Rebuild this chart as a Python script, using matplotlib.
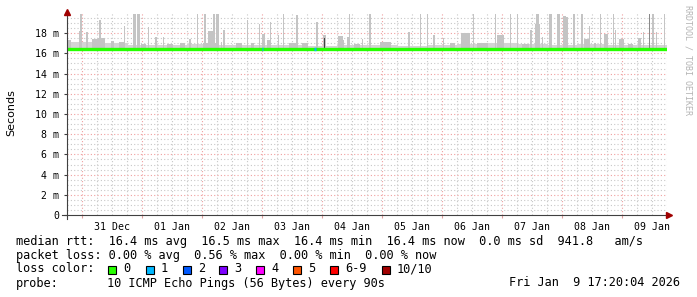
import matplotlib
matplotlib.use('Agg')
import matplotlib.pyplot as plt
import matplotlib.dates as mdates
from matplotlib.patches import Rectangle
from datetime import datetime, timedelta

# ---------------- data ----------------
start = datetime(2025, 12, 30, 18, 0)
span_hours = 240

median_hours = [0, 240]
median_ms = [16.45, 16.45]

# base smoke (12 h segments)
base_hours = [6 + 12 * i for i in range(20)]
base_tops = [17.1, 17.0, 16.8, 16.8, 16.9, 16.8, 16.8, 16.8, 16.7, 16.8,
             16.8, 16.7, 16.8, 16.9, 17.0, 16.9, 16.8, 16.9, 16.8, 16.8]

spike_hours = [0.8, 5.2, 5.5, 8.0, 11.0, 13.2, 13.6, 18.0, 21.6, 22.8,
               26.8, 28.4, 30.4, 32.4, 35.2, 38.4, 41.0, 46.0, 49.2, 52.0,
               55.2, 57.2, 58.6, 60.0, 57.0, 61.6, 62.8, 68.6, 72.0, 74.0,
               76.8, 78.4, 80.6, 81.2, 84.4, 86.4, 90.0, 92.0, 95.0, 99.6,
               102.8, 109.2, 110.2, 112.2, 112.8, 116.0, 118.0, 121.2, 127.2, 136.4,
               141.2, 144.0, 146.8, 150.4, 154.0, 159.2, 162.4, 166.0, 171.2, 173.2,
               177.2, 180.0, 183.2, 185.2, 188.0, 188.0, 190.0, 193.2, 196.4, 198.8,
               200.0, 202.4, 206.0, 207.8, 208.8, 211.2, 213.2, 215.4, 218.4, 219.2,
               221.6, 222.4, 225.2, 228.8, 230.4, 232.8, 234.2, 235.6, 238.8]
spike_tops = [17.3, 18.2, 19.9, 18.1, 17.4, 19.3, 17.5, 17.2, 17.1, 18.7,
              19.9, 19.9, 16.9, 18.6, 17.6, 17.6, 16.9, 17.0, 17.4, 19.9,
              19.9, 18.2, 19.9, 19.9, 17.0, 17.1, 18.3, 17.0, 19.3, 17.0,
              18.9, 17.9, 17.3, 19.1, 17.8, 19.9, 17.0, 19.8, 17.0, 19.1,
              17.8, 17.7, 17.3, 17.6, 19.9, 16.9, 17.4, 19.9, 17.1, 18.1,
              19.9, 19.9, 17.8, 17.5, 17.0, 18.0, 19.9, 17.0, 19.9, 17.8,
              19.9, 19.9, 16.9, 18.3, 18.9, 19.9, 17.6, 19.9, 19.9, 19.7,
              19.6, 19.9, 19.9, 17.4, 18.7, 17.0, 19.9, 17.9, 19.9, 18.3,
              17.4, 17.0, 16.9, 17.5, 18.1, 19.9, 19.9, 18.1, 19.9]
spike_widths = [1.2, 1.2, 0.5, 0.4, 2.0, 0.4, 2.4, 0.8, 2.0, 0.4,
                0.6, 0.6, 1.6, 0.4, 0.4, 0.4, 2.4, 2.0, 0.4, 0.4,
                0.4, 1.6, 0.8, 0.8, 5.6, 0.4, 0.4, 2.0, 0.4, 0.8,
                0.4, 1.2, 1.2, 0.4, 0.4, 0.4, 2.8, 0.4, 2.0, 0.4,
                0.8, 2.0, 0.8, 0.8, 0.4, 2.0, 0.4, 0.4, 4.0, 0.4,
                0.4, 0.4, 0.4, 0.4, 2.0, 3.2, 0.4, 4.0, 0.4, 2.8,
                0.4, 0.4, 2.4, 0.4, 1.6, 0.8, 0.4, 1.0, 0.8, 0.8,
                0.4, 0.4, 0.4, 2.4, 0.4, 0.4, 0.4, 1.2, 0.4, 0.4,
                1.6, 0.4, 2.0, 0.8, 0.4, 0.4, 0.6, 0.4, 0.4]

dark_hours = [102.8, 232.8]
dark_tops = [17.5, 19.9]
dark_colors = ['#404040', '#8a8a8a']

loss_hours = [78.3, 99.2]
loss_widths = [0.4, 0.8]
loss_levels = [1, 1]

loss_labels = ['0', '1', '2', '3', '4', '5', '6-9', '10/10']
loss_colors = ['#26ff00', '#00b8ff', '#0059ff', '#7e00ff', '#ff00ff',
               '#ff5500', '#ff0000', '#a10000']

ytick_vals = [0, 2, 4, 6, 8, 10, 12, 14, 16, 18]
ytick_labels = ['0'] + ['%d m' % v for v in ytick_vals[1:]]

rtt_stats = ['16.4 ms avg', '16.5 ms max', '16.4 ms min', '16.4 ms now', '0.0 ms sd']
rtt_am = '941.8'
loss_stats = ['0.00 % avg', '0.56 % max', '0.00 % min', '0.00 % now']
probe_text = '10 ICMP Echo Pings (56 Bytes) every 90s'
stamp_text = 'Fri Jan  9 17:20:04 2026'

# ---------------- figure ----------------
W, H = 697, 297
fig = plt.figure(figsize=(W / 100, H / 100), dpi=100)
fig.patch.set_facecolor('white')
ax = fig.add_axes([67 / W, 1 - 215 / H, 600 / W, 202 / H])
ax.set_facecolor('white')

def hd(h):
    return mdates.date2num(start + timedelta(hours=h))

x0, x1 = hd(0), hd(span_hours)
ax.set_xlim(x0, x1)
ax.set_ylim(0, 20.0)

mono = 'DejaVu Sans Mono'

# grid
minor_grid = dict(color='#c8c8c8', linewidth=0.8, linestyle=(0, (1, 2)), zorder=0)
major_grid = dict(color='#f0a0a0', linewidth=0.8, linestyle=(0, (1, 2)), zorder=0.5)
yv = 0.5
while yv < 20.0:
    if abs(yv - round(yv / 2) * 2) > 1e-6:
        ax.axhline(yv, **minor_grid)
    yv += 0.5
for v in ytick_vals[1:]:
    ax.axhline(v, **major_grid)
h = 0
while h <= span_hours:
    t = start + timedelta(hours=h)
    if t.hour == 0:
        ax.axvline(hd(h), **major_grid)
    else:
        ax.axvline(hd(h), **minor_grid)
    h += 6

def smoke_bar(hh, top, width_h, color, z):
    ax.bar(hd(hh), top - median_ms[0], width=width_h / 24, bottom=median_ms[0],
           color=color, edgecolor=color, linewidth=0.5, antialiased=False, zorder=z)

# base smoke
for bh, bt in zip(base_hours, base_tops):
    smoke_bar(bh, bt, 12, '#d4d4d4', 1)
# spikes
for sh, st, sw in zip(spike_hours, spike_tops, spike_widths):
    smoke_bar(sh, st, sw, '#c4c4c4', 2)
for dh, dt, dc in zip(dark_hours, dark_tops, dark_colors):
    smoke_bar(dh, dt, 0.4, dc, 3)

# median line
ax.plot([hd(hh) for hh in median_hours], median_ms, color=loss_colors[0],
        linewidth=2.4, solid_capstyle='butt', zorder=4)
for lh, lw, ll in zip(loss_hours, loss_widths, loss_levels):
    ax.plot([hd(lh - lw / 2), hd(lh + lw / 2)], [median_ms[0]] * 2,
            color=loss_colors[ll], linewidth=2.4, solid_capstyle='butt', zorder=5)

# axes
for s in ax.spines.values():
    s.set_visible(False)
ax.plot([0, 0], [-0.02, 1.0], transform=ax.transAxes, color='#404040',
        linewidth=0.8, clip_on=False, zorder=6)
ax.plot([-0.008, 1.0], [0, 0], transform=ax.transAxes, color='#404040',
        linewidth=0.8, clip_on=False, zorder=6)
ax.plot([0], [1.005], transform=ax.transAxes, marker='^', color='#a00000',
        markersize=4, clip_on=False, zorder=7)
ax.plot([1.004], [0], transform=ax.transAxes, marker='>', color='#a00000',
        markersize=4, clip_on=False, zorder=7)

ax.set_yticks(ytick_vals)
ax.set_yticklabels(ytick_labels, fontfamily=mono, fontsize=7.1)
ax.tick_params(axis='y', length=2, width=0.8, color='#404040', pad=3.6)

noon = [hd(12 * (2 * k + 1) + 6) for k in range(10)]
ax.set_xticks(noon)
ax.set_xticklabels([(start + timedelta(hours=12 * (2 * k + 1) + 6)).strftime('%d %b')
                    for k in range(10)], fontfamily=mono, fontsize=7.1)
ax.tick_params(axis='x', which='major', length=0, pad=5)
mid = [hd(6 + 24 * k) for k in range(10)]
ax.set_xticks(mid, minor=True)
ax.tick_params(axis='x', which='minor', length=2.5, width=0.8, color='#e0a0a0')

fig.text(11 / W, 1 - 113 / H, 'Seconds', rotation=90, ha='center', va='center',
         fontsize=8, family='DejaVu Sans')
fig.text(688 / W, 1 - 5 / H, 'RRDTOOL / TOBI OETIKER', rotation=-90, ha='center',
         va='top', fontsize=6, family=mono, color='#b4b4b4')

# legend lines
fs = 8.55
def ft(x, y, s, **kw):
    fig.text(x / W, 1 - y / H, s, fontsize=fs, family=mono, va='center', **kw)

ft(16, 241, 'median rtt:  ' + '  '.join(rtt_stats) + '  ' + rtt_am + '   am/s')
ft(16, 255, 'packet loss: ' + '  '.join(loss_stats))
ft(16, 269, 'loss color:')
sq_x = [108, 145.7, 182.7, 219.3, 256, 293, 330, 381.7]
for sx, lab, col in zip(sq_x, loss_labels, loss_colors):
    fig.add_artist(Rectangle((sx / W, 1 - 273.5 / H), 8 / W, 8 / H,
                             transform=fig.transFigure, facecolor=col,
                             edgecolor='black', linewidth=0.8))
    ft(sx + 15, 269, lab)
ft(16, 283, 'probe:')
ft(107, 283, probe_text)
ft(680, 283, stamp_text, ha='right')

fig.savefig('out.png', dpi=100, facecolor='white')
